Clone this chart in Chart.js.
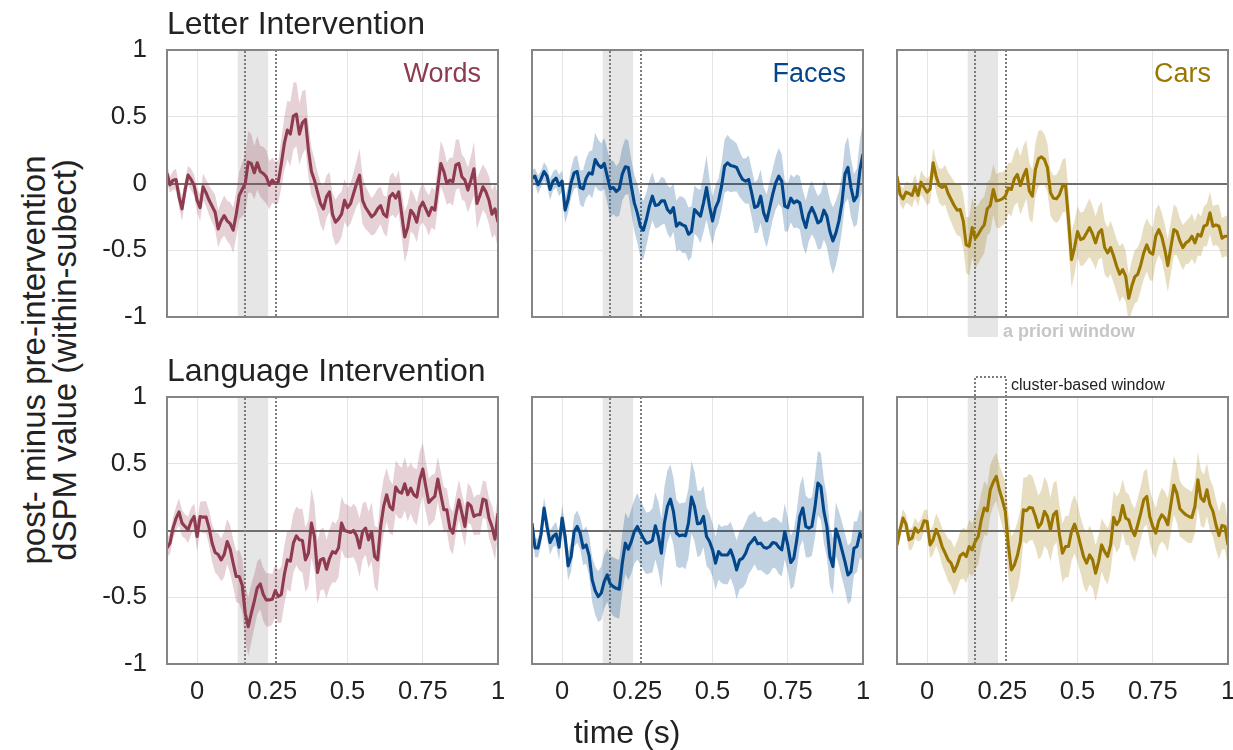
<!DOCTYPE html>
<html><head><meta charset="utf-8">
<script src="https://cdn.jsdelivr.net/npm/chart.js@4/dist/chart.umd.min.js"></script>
<style>
html,body{margin:0;padding:0;background:#fff;}
#fig{position:relative;width:1233px;height:750px;overflow:hidden;background:#fff;font-family:"Liberation Sans",Arial,sans-serif;color:#222;}
#fig canvas{position:absolute;}
.txt{position:absolute;white-space:nowrap;}
</style></head><body><div id="fig"></div>
<script>
// ---------- data ----------
const tStart = -0.1, tStep = 0.01; // sampling grid of the time courses (s)
const xTicks = [0, 0.25, 0.5, 0.75, 1];
const xTickLabels = ['0', '0.25', '0.5', '0.75', '1'];
const xGridValues = [0, 0.5, 0.75];
const yTicks = [-1, -0.5, 0, 0.5, 1];
const yTickLabels = ['-1', '-0.5', '0', '0.5', '1'];
const yGridValues = [-0.5, 0.5];
const aprioriWindow = [0.135, 0.236];
const clusterWindow = [0.16, 0.262];
const conditions = ['Words', 'Faces', 'Cars'];
const interventions = ['Letter Intervention', 'Language Intervention'];

const wordsLetterMean = [0.076,-0.01,0.025,0.03,-0.10,-0.19,-0.05,0.063,0.03,-0.013,
-0.126,-0.18,-0.025,-0.07,-0.126,-0.17,-0.215,-0.34,-0.28,-0.24,
-0.28,-0.30,-0.35,-0.23,-0.09,-0.045,0.0,0.16,0.15,0.08,
0.155,0.09,0.075,0.05,-0.013,0.025,0.0,0.013,0.15,0.30,
0.40,0.37,0.505,0.52,0.37,0.455,0.48,0.25,0.09,0.025,
-0.063,-0.15,-0.19,-0.10,-0.063,-0.23,-0.29,-0.265,-0.23,-0.126,
-0.18,-0.15,-0.075,0.0,0.063,-0.126,-0.18,-0.215,-0.25,-0.23,
-0.19,-0.165,-0.23,-0.25,-0.10,-0.075,-0.11,-0.063,-0.23,-0.40,
-0.33,-0.20,-0.23,-0.29,-0.18,-0.14,-0.19,-0.24,-0.18,-0.20,
-0.025,0.15,0.09,0.0,0.025,0.013,0.14,0.15,0.05,0.025,
-0.05,0.025,0.11,-0.15,-0.09,-0.025,-0.063,-0.126,-0.23,-0.19,-0.29];
const wordsLetterSem = [0.07,0.06,0.07,0.08,0.08,0.09,0.08,0.07,0.08,0.08,
0.09,0.1,0.1,0.1,0.11,0.12,0.13,0.14,0.14,0.15,
0.15,0.16,0.17,0.17,0.18,0.2,0.22,0.23,0.22,0.2,
0.2,0.19,0.2,0.2,0.18,0.17,0.16,0.16,0.18,0.2,
0.22,0.24,0.25,0.24,0.23,0.24,0.22,0.2,0.18,0.16,
0.15,0.16,0.17,0.16,0.15,0.16,0.17,0.18,0.17,0.16,
0.15,0.15,0.16,0.17,0.2,0.18,0.16,0.15,0.14,0.15,
0.15,0.14,0.14,0.15,0.15,0.16,0.15,0.16,0.17,0.19,
0.18,0.16,0.15,0.15,0.14,0.15,0.14,0.15,0.15,0.15,
0.16,0.17,0.17,0.16,0.17,0.18,0.19,0.18,0.17,0.16,
0.17,0.18,0.2,0.19,0.18,0.17,0.17,0.18,0.18,0.19,0.2];

const facesLetterMean = [0.04,0.055,-0.01,0.035,0.09,0.055,-0.045,0.018,0.04,-0.015,
0.018,-0.2,-0.12,0.005,0.08,0.09,-0.03,-0.04,0.04,0.08,
0.07,0.18,0.14,0.12,0.15,0.055,-0.04,-0.03,-0.06,-0.04,
0.07,0.125,0.12,-0.02,-0.145,-0.22,-0.32,-0.35,-0.27,-0.17,
-0.095,-0.165,-0.16,-0.13,-0.13,-0.195,-0.22,-0.18,-0.32,-0.295,
-0.31,-0.32,-0.38,-0.36,-0.195,-0.22,-0.245,-0.145,-0.03,-0.17,
-0.28,-0.18,-0.13,-0.02,0.13,0.155,0.135,0.13,0.12,0.07,
0.03,0.018,0.03,-0.07,-0.18,-0.17,-0.095,-0.22,-0.28,-0.18,
-0.08,0.005,0.055,0.018,-0.17,-0.18,-0.11,-0.145,-0.13,-0.145,
-0.26,-0.33,-0.23,-0.18,-0.23,-0.295,-0.28,-0.2,-0.245,-0.36,
-0.43,-0.37,-0.28,-0.145,0.07,0.12,-0.03,-0.13,-0.095,0.105,0.22];
const facesLetterSem = [0.06,0.06,0.07,0.06,0.07,0.07,0.08,0.07,0.07,0.08,
0.08,0.1,0.1,0.11,0.12,0.12,0.13,0.14,0.15,0.16,
0.18,0.2,0.19,0.18,0.19,0.2,0.21,0.2,0.19,0.2,
0.2,0.21,0.2,0.2,0.21,0.22,0.23,0.22,0.2,0.19,
0.18,0.17,0.17,0.18,0.17,0.18,0.19,0.18,0.19,0.2,
0.21,0.2,0.2,0.19,0.18,0.18,0.2,0.22,0.24,0.2,
0.18,0.17,0.17,0.18,0.2,0.21,0.2,0.19,0.18,0.17,
0.16,0.17,0.18,0.18,0.19,0.2,0.2,0.19,0.2,0.2,
0.19,0.2,0.21,0.2,0.19,0.18,0.18,0.19,0.2,0.2,
0.21,0.2,0.2,0.2,0.19,0.2,0.21,0.22,0.23,0.24,
0.25,0.24,0.22,0.21,0.22,0.23,0.22,0.2,0.21,0.23,0.24];

const carsLetterMean = [0.055,-0.08,-0.115,-0.065,-0.075,-0.09,-0.02,-0.09,0.01,-0.03,
-0.065,-0.04,0.155,0.055,-0.015,-0.03,-0.01,-0.075,-0.12,-0.165,
-0.2,-0.195,-0.28,-0.46,-0.47,-0.33,-0.41,-0.38,-0.34,-0.31,
-0.19,-0.165,-0.045,-0.13,-0.125,-0.115,-0.095,-0.035,-0.045,0.035,
0.068,-0.015,0.055,0.105,-0.058,-0.095,0.105,0.185,0.2,0.18,
0.118,-0.07,-0.11,-0.115,-0.083,-0.02,-0.008,-0.27,-0.57,-0.48,
-0.36,-0.42,-0.41,-0.37,-0.33,-0.38,-0.445,-0.37,-0.345,-0.48,
-0.52,-0.48,-0.545,-0.62,-0.68,-0.645,-0.695,-0.86,-0.77,-0.7,
-0.68,-0.61,-0.52,-0.46,-0.515,-0.53,-0.395,-0.345,-0.4,-0.495,
-0.615,-0.48,-0.345,-0.36,-0.43,-0.48,-0.445,-0.43,-0.395,-0.445,
-0.38,-0.395,-0.32,-0.31,-0.22,-0.32,-0.31,-0.32,-0.41,-0.395,-0.395];
const carsLetterSem = [0.07,0.07,0.08,0.08,0.08,0.09,0.09,0.08,0.09,0.09,
0.1,0.1,0.11,0.12,0.13,0.14,0.15,0.16,0.17,0.18,
0.19,0.2,0.2,0.21,0.22,0.22,0.23,0.22,0.22,0.21,
0.2,0.2,0.19,0.2,0.21,0.2,0.2,0.19,0.2,0.2,
0.21,0.22,0.23,0.22,0.21,0.2,0.2,0.21,0.2,0.19,
0.18,0.17,0.17,0.18,0.19,0.2,0.2,0.21,0.21,0.2,
0.19,0.2,0.2,0.21,0.22,0.21,0.2,0.2,0.21,0.2,
0.19,0.2,0.2,0.2,0.21,0.2,0.19,0.18,0.19,0.2,
0.2,0.19,0.2,0.2,0.21,0.2,0.2,0.19,0.18,0.19,
0.2,0.2,0.19,0.18,0.17,0.17,0.16,0.17,0.17,0.16,
0.16,0.15,0.15,0.16,0.16,0.15,0.15,0.16,0.15,0.15,0.16];

const wordsLangMean = [-0.13,-0.095,0.018,0.09,0.14,0.055,0.03,0.005,0.068,0.105,
-0.045,0.105,0.1,0.1,0.018,-0.095,-0.165,-0.18,-0.22,-0.18,
-0.083,-0.14,-0.245,-0.345,-0.345,-0.41,-0.62,-0.72,-0.62,-0.53,
-0.43,-0.4,-0.48,-0.52,-0.52,-0.515,-0.45,-0.495,-0.48,-0.33,
-0.22,-0.23,-0.095,-0.04,-0.07,-0.075,-0.22,-0.17,0.055,-0.045,
-0.315,-0.22,-0.21,-0.29,-0.21,-0.158,-0.17,-0.13,0.055,0.0,
-0.008,-0.015,0.0,-0.04,-0.13,-0.008,0.018,-0.07,-0.008,-0.195,
-0.22,0.03,0.18,0.268,0.18,0.155,0.325,0.29,0.28,0.35,
0.268,0.318,0.268,0.25,0.38,0.46,0.33,0.21,0.235,0.255,
0.385,0.268,0.155,0.155,0.018,-0.02,0.118,0.23,0.13,0.03,
0.205,0.185,0.105,0.118,0.118,0.235,0.225,0.093,0.03,-0.065,0.13];
const wordsLangSem = [0.07,0.08,0.08,0.09,0.1,0.1,0.09,0.1,0.1,0.1,
0.11,0.11,0.12,0.12,0.13,0.14,0.15,0.16,0.16,0.17,
0.17,0.18,0.18,0.19,0.2,0.2,0.21,0.22,0.22,0.2,
0.2,0.19,0.2,0.2,0.2,0.19,0.2,0.2,0.21,0.22,
0.22,0.23,0.22,0.22,0.23,0.24,0.24,0.25,0.26,0.25,
0.24,0.23,0.23,0.22,0.22,0.23,0.22,0.22,0.2,0.2,
0.2,0.19,0.2,0.21,0.22,0.21,0.2,0.21,0.22,0.23,
0.24,0.22,0.21,0.2,0.2,0.19,0.2,0.2,0.19,0.2,
0.2,0.19,0.2,0.21,0.21,0.2,0.19,0.18,0.18,0.17,
0.17,0.17,0.17,0.16,0.16,0.16,0.15,0.15,0.15,0.15,
0.15,0.14,0.14,0.15,0.15,0.14,0.14,0.15,0.16,0.16,0.15];

const facesLangMean = [0.055,-0.13,-0.13,-0.03,0.168,0.03,-0.09,-0.045,-0.025,-0.125,
0.093,-0.045,-0.265,-0.195,-0.008,0.03,-0.02,-0.13,-0.108,-0.19,
-0.37,-0.45,-0.495,-0.47,-0.383,-0.333,-0.4,-0.42,-0.433,-0.44,
-0.245,-0.095,-0.14,-0.083,-0.008,0.03,-0.015,-0.058,-0.095,-0.09,
-0.075,0.035,-0.045,-0.17,0.055,0.18,0.235,0.143,-0.02,-0.04,
-0.033,-0.04,0.055,0.25,0.18,0.05,0.055,0.105,-0.045,-0.083,
-0.145,-0.245,-0.158,-0.183,-0.183,-0.183,-0.145,-0.208,-0.295,-0.22,
-0.208,-0.17,-0.108,-0.083,-0.053,-0.1,-0.095,-0.125,-0.133,-0.12,
-0.09,-0.095,-0.125,-0.145,-0.008,-0.108,-0.24,-0.208,-0.07,0.105,
0.168,0.03,0.018,0.03,0.168,0.355,0.33,0.143,0.03,-0.195,
-0.27,0.01,-0.058,-0.145,-0.233,-0.333,-0.308,-0.133,-0.12,-0.02,-0.058];
const facesLangSem = [0.06,0.07,0.07,0.08,0.08,0.09,0.09,0.08,0.09,0.1,
0.1,0.1,0.11,0.11,0.12,0.12,0.12,0.13,0.14,0.15,
0.17,0.18,0.19,0.2,0.2,0.2,0.21,0.22,0.22,0.22,
0.22,0.23,0.23,0.24,0.24,0.25,0.24,0.24,0.23,0.23,
0.24,0.25,0.26,0.26,0.27,0.27,0.26,0.25,0.25,0.24,
0.24,0.25,0.26,0.27,0.26,0.25,0.24,0.23,0.22,0.21,
0.2,0.2,0.21,0.21,0.22,0.22,0.21,0.21,0.22,0.22,
0.22,0.23,0.22,0.21,0.2,0.2,0.2,0.19,0.2,0.2,
0.19,0.19,0.2,0.2,0.21,0.2,0.2,0.21,0.22,0.23,
0.24,0.23,0.22,0.22,0.23,0.24,0.25,0.24,0.23,0.22,
0.21,0.2,0.2,0.21,0.21,0.22,0.22,0.2,0.19,0.18,0.18];

const carsLangMean = [-0.108,0.005,0.093,0.048,-0.07,-0.058,0.018,-0.013,0.008,0.073,
0.068,-0.108,-0.07,0.008,-0.045,-0.12,-0.17,-0.22,-0.245,-0.308,
-0.258,-0.188,-0.17,-0.195,-0.12,-0.145,-0.083,-0.045,0.08,0.168,
0.148,0.305,0.363,0.405,0.305,0.23,0.143,-0.108,-0.295,-0.258,
-0.188,-0.083,0.155,0.148,0.173,0.168,0.105,0.023,0.055,0.143,
0.105,0.005,0.118,0.143,-0.033,-0.17,-0.12,-0.12,-0.008,0.048,
-0.02,-0.108,-0.195,-0.245,-0.183,-0.22,-0.32,-0.233,-0.108,-0.158,
-0.195,-0.108,0.098,0.043,0.08,0.188,0.093,0.08,0.005,-0.038,
0.043,0.13,0.23,0.255,0.105,0.03,-0.02,0.073,0.118,0.093,
0.043,0.193,0.338,0.28,0.163,0.138,0.118,0.105,0.098,0.18,
0.38,0.243,0.218,0.305,0.193,0.143,0.043,-0.038,0.038,0.03,-0.108];
const carsLangSem = [0.06,0.07,0.07,0.07,0.08,0.08,0.08,0.07,0.08,0.08,
0.09,0.1,0.11,0.12,0.13,0.14,0.15,0.16,0.17,0.18,
0.18,0.18,0.19,0.2,0.2,0.2,0.21,0.21,0.2,0.2,
0.19,0.19,0.18,0.18,0.19,0.2,0.22,0.24,0.25,0.25,
0.25,0.24,0.24,0.25,0.25,0.24,0.23,0.24,0.25,0.26,
0.25,0.24,0.24,0.23,0.22,0.22,0.23,0.23,0.22,0.22,
0.22,0.21,0.22,0.22,0.22,0.21,0.21,0.2,0.2,0.21,
0.21,0.2,0.2,0.21,0.21,0.2,0.2,0.19,0.2,0.2,
0.2,0.2,0.21,0.21,0.2,0.2,0.19,0.19,0.2,0.2,
0.2,0.21,0.22,0.22,0.21,0.2,0.2,0.2,0.19,0.2,
0.21,0.21,0.2,0.2,0.19,0.19,0.19,0.18,0.18,0.17,0.17];

// ---------- styling ----------
const lineColors = ['#8e3a4f', '#03478a', '#9a7600'];
const bandColors = ['rgba(142,58,79,0.23)', 'rgba(3,71,138,0.25)', 'rgba(154,118,0,0.24)'];
const colLeft = [167, 532, 897];
const rowTop = [50, 397];
const PW = 331, PH = 267;
const fig = document.getElementById('fig');
const FONT = '"Liberation Sans", Arial, sans-serif';

const panelData = [
  [[wordsLetterMean, wordsLetterSem], [facesLetterMean, facesLetterSem], [carsLetterMean, carsLetterSem]],
  [[wordsLangMean, wordsLangSem], [facesLangMean, facesLangSem], [carsLangMean, carsLangSem]]
];

function addText(txt, css) {
  const d = document.createElement('div');
  d.className = 'txt';
  d.innerHTML = txt;
  Object.assign(d.style, css);
  fig.appendChild(d);
  return d;
}

const decor = {
  id: 'decor',
  beforeDatasetsDraw(chart) {
    const {ctx, chartArea: a, scales: {x, y}} = chart;
    const o = chart.options.plugins.decor;
    ctx.save();
    // a priori window shade
    const s0 = x.getPixelForValue(aprioriWindow[0]), s1 = x.getPixelForValue(aprioriWindow[1]);
    ctx.fillStyle = '#e6e6e6';
    ctx.fillRect(s0, a.top, s1 - s0, a.bottom - a.top + (o.aprioriLegend ? 20 : 0));
    // zero line
    const y0 = Math.round(y.getPixelForValue(0));
    ctx.strokeStyle = '#6e6e6e';
    ctx.lineWidth = 2;
    ctx.beginPath(); ctx.moveTo(a.left, y0); ctx.lineTo(a.right, y0); ctx.stroke();
    // cluster window dotted lines
    const c0 = Math.round(x.getPixelForValue(clusterWindow[0])), c1 = Math.round(x.getPixelForValue(clusterWindow[1]));
    ctx.strokeStyle = '#7c7c7c';
    ctx.lineWidth = 2;
    ctx.setLineDash([2, 2]);
    const topY = o.clusterLegend ? a.top - 20 : a.top;
    ctx.beginPath();
    ctx.moveTo(c0, a.bottom); ctx.lineTo(c0, topY);
    if (o.clusterLegend) ctx.lineTo(c1, topY);
    else ctx.moveTo(c1, topY);
    ctx.lineTo(c1, a.bottom);
    ctx.stroke();
    ctx.restore();
  },
  afterDatasetsDraw(chart) {
    const {ctx, chartArea: a} = chart;
    ctx.save();
    ctx.strokeStyle = '#858585';
    ctx.lineWidth = 2;
    ctx.strokeRect(a.left, a.top, a.right - a.left, a.bottom - a.top);
    ctx.restore();
  }
};

function noPad(s) { s.paddingTop = 0; s.paddingBottom = 0; s.paddingLeft = 0; s.paddingRight = 0; }

function makePanel(r, c) {
  const [mean, sem] = panelData[r][c];
  const times = mean.map((_, i) => +(tStart + i * tStep).toFixed(2));
  const L = colLeft[c], T = rowTop[r];
  const padL = c === 0 ? 80 : 6;
  const padR = 16;
  let padT = 16;
  let padB = r === 1 ? 52 : 18;
  if (r === 0 && c === 2) padB = 26;
  if (r === 1 && c === 2) padT = 26;
  const cv = document.createElement('canvas');
  cv.width = padL + PW + padR; cv.height = padT + PH + padB;
  cv.style.left = (L - padL) + 'px'; cv.style.top = (T - padT) + 'px';
  cv.style.width = cv.width + 'px'; cv.style.height = cv.height + 'px';
  fig.appendChild(cv);

  const pts = arr => times.map((t, i) => ({x: t, y: arr[i]}));
  new Chart(cv, {
    type: 'line',
    data: {
      datasets: [
        {data: pts(mean), borderColor: lineColors[c], borderWidth: 3.1, pointRadius: 0, tension: 0, fill: false, borderJoinStyle: 'round'},
        {data: pts(mean.map((m, i) => m + sem[i])), borderWidth: 0, pointRadius: 0, tension: 0, fill: '+1', backgroundColor: bandColors[c], clip: 0},
        {data: pts(mean.map((m, i) => m - sem[i])), borderWidth: 0, pointRadius: 0, tension: 0, fill: false, clip: 0}
      ]
    },
    options: {
      responsive: false, animation: false, devicePixelRatio: 1, events: [],
      layout: {padding: {left: c === 0 ? 0 : padL, right: padR, top: padT, bottom: r === 1 ? 0 : padB}},
      plugins: {
        legend: {display: false}, tooltip: {enabled: false},
        decor: {aprioriLegend: r === 0 && c === 2, clusterLegend: r === 1 && c === 2}
      },
      scales: {
        x: {
          type: 'linear', min: -0.1, max: 1.0,
          afterBuildTicks: s => { s.ticks = xTicks.map(v => ({value: v})); },
          afterFit: s => { s.height = r === 1 ? padB : 0; noPad(s); },
          ticks: {
            display: r === 1, autoSkip: false, maxRotation: 0, padding: 13,
            color: '#222', font: {family: FONT, size: 25.5},
            callback: v => xTickLabels[xTicks.indexOf(v)]
          },
          grid: {drawTicks: false, lineWidth: 1, color: ctx => (ctx.tick && xGridValues.includes(ctx.tick.value)) ? '#e4e4e4' : 'rgba(0,0,0,0)'},
          border: {display: false}
        },
        y: {
          type: 'linear', min: -1, max: 1,
          afterBuildTicks: s => { s.ticks = yTicks.map(v => ({value: v})); },
          afterFit: s => { s.width = c === 0 ? padL : 0; noPad(s); },
          ticks: {
            display: c === 0, padding: 20, color: '#222', font: {family: FONT, size: 26},
            callback: v => yTickLabels[yTicks.indexOf(v)]
          },
          grid: {drawTicks: false, lineWidth: 1, color: ctx => (ctx.tick && yGridValues.includes(ctx.tick.value)) ? '#e4e4e4' : 'rgba(0,0,0,0)'},
          border: {display: false}
        }
      }
    },
    plugins: [decor]
  });
}

for (let r = 0; r < 2; r++) for (let c = 0; c < 3; c++) makePanel(r, c);

// ---------- texts ----------
addText(interventions[0], {left: '167px', top: '7px', fontSize: '32px', lineHeight: '32px', color: '#222'});
addText(interventions[1], {left: '167px', top: '354px', fontSize: '32px', lineHeight: '32px', color: '#222'});
conditions.forEach((name, c) => {
  addText(name, {right: (1233 - (colLeft[c] + PW - 17)) + 'px', top: '60px', fontSize: '27px', lineHeight: '27px', color: lineColors[c]});
});
addText('post- minus pre-intervention<br>dSPM value (within-subect)', {
  left: (48.5 - 270) + 'px', top: (360 - 31) + 'px', width: '540px', height: '62px',
  textAlign: 'center', fontSize: '33px', lineHeight: '31px', transform: 'rotate(-90deg)', color: '#222'
});
addText('time (s)', {left: '527px', width: '200px', textAlign: 'center', top: '716px', fontSize: '32px', lineHeight: '32px', color: '#222'});
addText('a priori window', {left: '1003px', top: '322px', fontSize: '18px', lineHeight: '18px', fontWeight: 'bold', color: '#c6c6c6'});
addText('cluster-based window', {left: '1011px', top: '377px', fontSize: '16px', lineHeight: '16px', color: '#222'});
</script></body></html>
